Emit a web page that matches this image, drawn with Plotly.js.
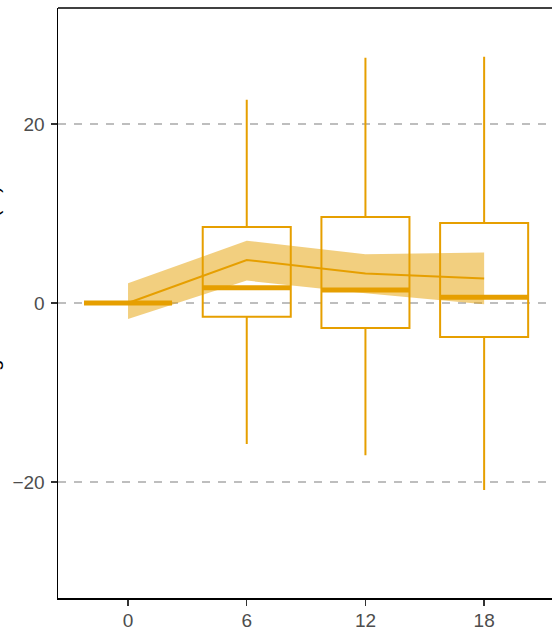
<!DOCTYPE html>
<html>
<head>
<meta charset="utf-8">
<script src="https://cdn.plot.ly/plotly-3.0.1.min.js"></script>
<style>html,body{margin:0;padding:0;background:#fff;}#chart{width:552px;height:630px;}</style>
</head>
<body>
<div id="chart"></div>
<script>
// Data
var weeks = [0, 6, 12, 18];
var lowerWhisker = [0, -15.75, -17.0, -20.9];
var q1 = [0, -1.55, -2.8, -3.8];
var medians = [0, 1.7, 1.45, 0.65];
var q3 = [0, 8.5, 9.6, 8.95];
var upperWhisker = [0, 22.7, 27.4, 27.5];
var meanValues = [0, 4.8, 3.3, 2.75];
var ciLower = [-1.8, 2.5, 1.1, -0.15];
var ciUpper = [2.2, 6.95, 5.45, 5.65];
var xTickLabels = ["0", "6", "12", "18"];
var yTickValues = [-20, 0, 20];
var yTickLabels = ["\u221220", "0", "20"];

var orange = "#E69F00";
var boxWidth = 4.45;

// median segments built from the data
var medX = [], medY = [];
for (var i = 0; i < weeks.length; i++) {
  medX.push(weeks[i] - boxWidth / 2, weeks[i] + boxWidth / 2, null);
  medY.push(medians[i], medians[i], null);
}

var traces = [
  {
    type: "box", x: weeks, q1: q1, median: medians, q3: q3,
    lowerfence: lowerWhisker, upperfence: upperWhisker,
    width: boxWidth, fillcolor: "rgba(0,0,0,0)",
    line: {color: orange, width: 2}, whiskerwidth: 0,
    boxpoints: false, hoverinfo: "skip", showlegend: false
  },
  {
    type: "scatter", mode: "lines", x: medX, y: medY,
    line: {color: orange, width: 5}, hoverinfo: "skip", showlegend: false
  },
  {
    type: "scatter", mode: "lines", x: weeks, y: ciLower,
    line: {width: 0, color: "rgba(0,0,0,0)"}, hoverinfo: "skip", showlegend: false
  },
  {
    type: "scatter", mode: "lines", x: weeks, y: ciUpper, fill: "tonexty",
    fillcolor: "rgba(230,159,0,0.5)",
    line: {width: 0, color: "rgba(0,0,0,0)"}, hoverinfo: "skip", showlegend: false
  },
  {
    type: "scatter", mode: "lines", x: weeks, y: meanValues,
    line: {color: orange, width: 2}, hoverinfo: "skip", showlegend: false
  }
];

var layout = {
  width: 552, height: 630,
  margin: {l: 58, r: 0, t: 8, b: 32, pad: 0},
  paper_bgcolor: "#fff", plot_bgcolor: "#fff",
  font: {family: "Liberation Sans, Arial, sans-serif", size: 19, color: "#4D4D4D"},
  showlegend: false,
  xaxis: {
    range: [-3.54, 21.43], tickmode: "array", tickvals: weeks, ticktext: xTickLabels,
    showgrid: false, zeroline: false, showline: true, linecolor: "#000", linewidth: 1.5,
    ticks: "outside", ticklen: 6, tickwidth: 1.5, tickcolor: "#333",
    tickfont: {size: 19, color: "#4D4D4D"}, ticklabelstandoff: -1
  },
  yaxis: {
    range: [-32.96, 32.96], tickmode: "array", tickvals: yTickValues, ticktext: yTickLabels,
    showgrid: true, gridcolor: "#BEBEBE", gridwidth: 1.2, griddash: "8px,8px",
    zeroline: false, showline: true, linecolor: "#000", linewidth: 1.5,
    ticks: "outside", ticklen: 6, tickwidth: 1.5, tickcolor: "#333",
    tickfont: {size: 19, color: "#4D4D4D"}, ticklabelstandoff: 2
  },
  shapes: [
    {type: "line", xref: "paper", yref: "paper", x0: 0, x1: 1, y0: 1, y1: 1,
     line: {color: "#000", width: 1.5}}
  ],
  annotations: [
    {xref: "paper", yref: "paper", x: (4.5 - 58) / 494, y: 0.5, xanchor: "right", yanchor: "middle",
     text: "Change from baseline (%)", textangle: -90, showarrow: false,
     font: {size: 20, color: "#000", family: "Liberation Sans, Arial, sans-serif"}}
  ]
};

Plotly.newPlot("chart", traces, layout, {staticPlot: true, displayModeBar: false});
</script>
</body>
</html>
